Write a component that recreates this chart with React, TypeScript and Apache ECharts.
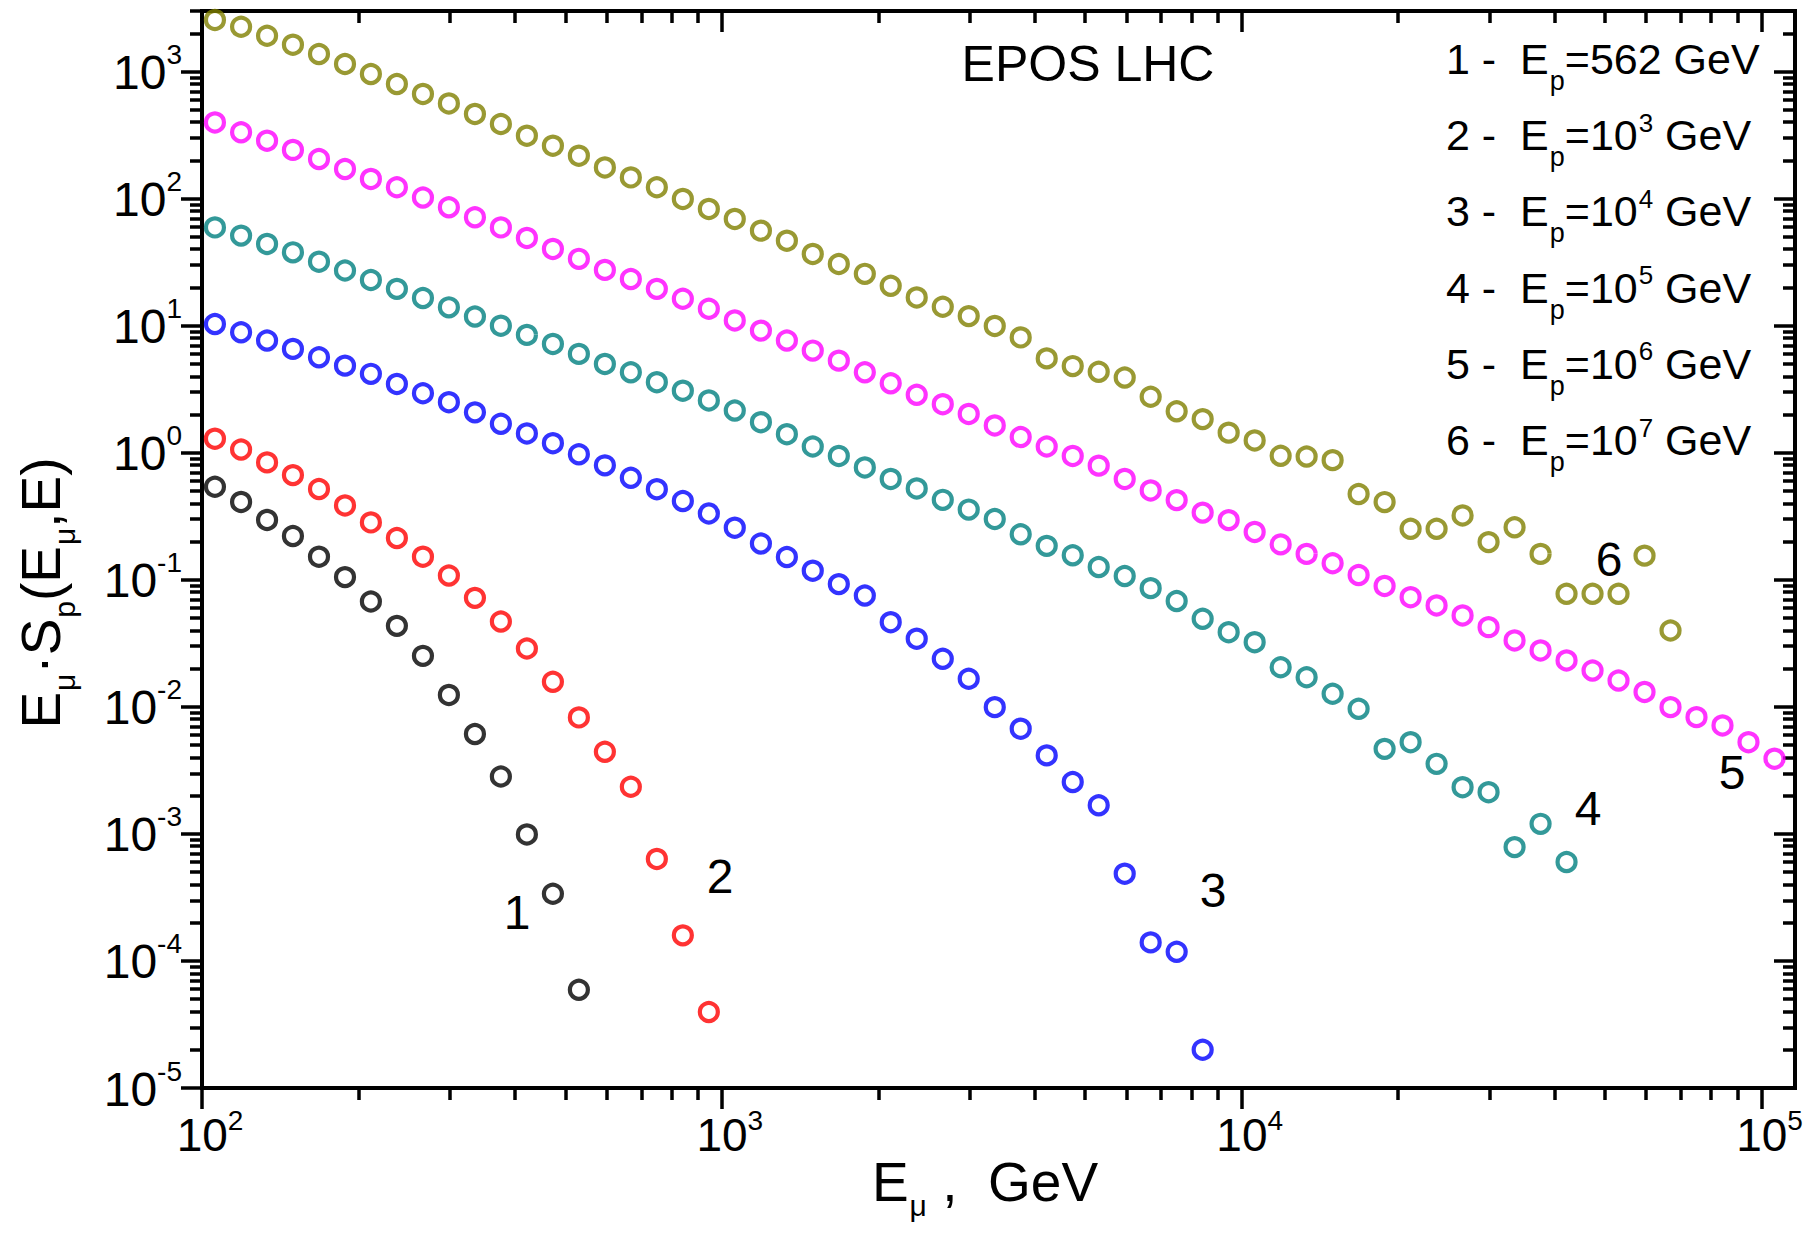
import React, { useEffect, useRef } from "react";
import * as echarts from "echarts";

// ---------- data ----------
// muon energy bin centres (GeV)
const energyGeV = [
  105.9, 118.9, 133.4, 149.6, 167.9, 188.4, 211.3, 237.1, 266.1, 298.5,
  335.0, 375.8, 421.7, 473.2, 530.9, 595.7, 668.3, 749.9, 841.4, 944.1,
  1059, 1189, 1334, 1496, 1679, 1884, 2113, 2371, 2661, 2985,
  3350, 3758, 4217, 4732, 5309, 5957, 6683, 7499, 8414, 9441,
  10593, 11885, 13335, 14962, 16788, 18836, 21135, 23714, 26607, 29854,
  33497, 37584, 42170, 47315, 53088, 59566, 66834, 74989, 84140, 94406,
  105925,
];

// 1 - Ep = 562 GeV
const curve1 = [0.54, 0.41, 0.296, 0.221, 0.152, 0.105, 0.0675, 0.0434, 0.0252, 0.0124,
  0.00611, 0.00283, 0.00099, 3.38e-4, 5.93e-5];
// 2 - Ep = 1e3 GeV
const curve2 = [1.29, 1.06, 0.84, 0.667, 0.518, 0.385, 0.283, 0.213, 0.152, 0.108,
  0.0721, 0.0469, 0.0288, 0.01575, 0.00826, 0.00443, 0.00235, 6.35e-4, 1.59e-4, 3.96e-5];
// 3 - Ep = 1e4 GeV
const curve3 = [10.3, 8.87, 7.64, 6.57, 5.64, 4.85, 4.18, 3.48, 2.94, 2.5,
  2.08, 1.69, 1.42, 1.19, 0.973, 0.796, 0.635, 0.517, 0.417, 0.333,
  0.257, 0.193, 0.151, 0.118, 0.0925, 0.0752, 0.0464, 0.0344, 0.0239, 0.01664,
  0.00995, 0.00673, 0.00415, 0.00256, 0.00168, 4.86e-4, 1.4e-4, 1.18e-4, 2.0e-5];
// 4 - Ep = 1e5 GeV
const curve4 = [59.4, 51.2, 44.0, 37.8, 31.9, 27.2, 22.9, 19.5, 16.5, 13.95,
  11.8, 10.0, 8.47, 7.19, 6.0, 5.0, 4.3, 3.59, 3.08, 2.58,
  2.15, 1.74, 1.4, 1.12, 0.944, 0.766, 0.622, 0.524, 0.426, 0.357,
  0.301, 0.228, 0.185, 0.156, 0.126, 0.107, 0.086, 0.068, 0.0493, 0.0387,
  0.0323, 0.0205, 0.0171, 0.01268, 0.00966, 0.00467, 0.00527, 0.00356, 0.00233, 0.00213,
  7.87e-4, 1.2e-3, 6.0e-4];
// 5 - Ep = 1e6 GeV
const curve5 = [398, 333, 286, 242, 205, 171, 143, 123, 102, 85.5,
  71.3, 59.4, 49.1, 40.2, 33.6, 27.5, 23.3, 19.5, 16.3, 13.6,
  11.0, 9.15, 7.64, 6.37, 5.31, 4.3, 3.52, 2.86, 2.41, 2.02,
  1.64, 1.33, 1.12, 0.944, 0.792, 0.622, 0.505, 0.424, 0.338, 0.295,
  0.238, 0.19, 0.16, 0.135, 0.109, 0.0895, 0.073, 0.0628, 0.0524, 0.0424,
  0.0333, 0.0278, 0.0232, 0.0193, 0.0161, 0.0131, 0.00995, 0.0083, 0.00714, 0.00527,
  0.00391];
// 6 - Ep = 1e7 GeV
const curve6 = [2550, 2255, 1916, 1629, 1375, 1148, 957, 798, 667, 562,
  464, 387, 313, 261, 218, 176, 147, 123, 99.5, 83,
  69.2, 56, 46.7, 36.7, 30.6, 25.6, 20.6, 16.7, 14.1, 11.9,
  9.96, 8.09, 5.53, 4.81, 4.34, 3.91, 2.76, 2.12, 1.84, 1.44,
  1.25, 0.946, 0.933, 0.875, 0.473, 0.409, 0.252, 0.252, 0.321, 0.198,
  0.259, 0.16, 0.0776, 0.0776, 0.0776, 0.155, 0.0399];

const curves = [curve1, curve2, curve3, curve4, curve5, curve6];
const curveColors = ["#000000", "#ff0000", "#0000ff", "#008080", "#ff00ff", "#808000"];
const curveNumbers = ["1", "2", "3", "4", "5", "6"];
const legendMain = ["=562", "=10", "=10", "=10", "=10", "=10"];
const legendSup = ["", "3", "4", "5", "6", "7"];

const X_MIN = 100;
const X_MAX = 116000;
const Y_MIN = 1e-5;
const Y_MAX = 3000;
const X_MAJOR = [1e2, 1e3, 1e4, 1e5];
const Y_MAJOR = [1e-5, 1e-4, 1e-3, 1e-2, 1e-1, 1, 10, 100, 1000];

function minorTicks(e0: number, e1: number, max: number) {
  const out: number[] = [];
  for (let e = e0; e <= e1; e++) {
    for (let m = 2; m <= 9; m++) {
      const v = Number((m * Math.pow(10, e)).toPrecision(3));
      if (v <= max) out.push(v);
    }
  }
  return out;
}
const X_MINOR = minorTicks(2, 4, X_MAX);
const Y_MINOR = minorTicks(-5, 3, Y_MAX);

// ---------- styles ----------
const FONT = '"Liberation Sans", Arial, Helvetica, sans-serif';
const BLACK = "#000";

const expOf = (v: number) => Math.round(Math.log10(v));

const xLabelRich = {
  b: { fontFamily: FONT, fontSize: 46, lineHeight: 46, color: BLACK, verticalAlign: "top", padding: [6, 0, 0, 16] },
  s: { fontFamily: FONT, fontSize: 28, lineHeight: 28, color: BLACK, verticalAlign: "top" },
};
const yLabelRich = {
  b: { fontFamily: FONT, fontSize: 48, lineHeight: 48, color: BLACK, verticalAlign: "top", padding: [8, 0, 0, 0] },
  s: { fontFamily: FONT, fontSize: 28, lineHeight: 28, color: BLACK, verticalAlign: "top" },
};
const legendRich = {
  n: { fontFamily: FONT, fontSize: 43, lineHeight: 43, color: BLACK, verticalAlign: "top", padding: [4, 0, 0, 0] },
  sub: { fontFamily: FONT, fontSize: 27, lineHeight: 27, color: BLACK, verticalAlign: "top", padding: [34, 0, 0, 1] },
  sup: { fontFamily: FONT, fontSize: 26, lineHeight: 26, color: BLACK, verticalAlign: "top", padding: [0, 0, 0, 1] },
};
const titleRich = {
  n: { fontFamily: FONT, fontSize: 55, lineHeight: 55, color: BLACK, verticalAlign: "top" },
  sub: { fontFamily: FONT, fontSize: 30, lineHeight: 30, color: BLACK, verticalAlign: "top", padding: [36, 0, 0, 1] },
};

const AXIS_W = 4;
const TICK_W = 3.5;
const MAJOR_LEN = 21;
const MINOR_LEN = 12;

function baseAxis(type: "x" | "y", position: string) {
  return {
    type: "log",
    logBase: 10,
    min: type === "x" ? X_MIN : Y_MIN,
    max: type === "x" ? X_MAX : Y_MAX,
    position,
    gridIndex: 0,
    splitLine: { show: false },
    minorTick: { show: false },
    axisLine: { show: false, onZero: false },
    axisTick: { show: false },
    axisLabel: { show: false },
  };
}

function tickAxis(type: "x" | "y", position: string, values: number[], len: number, inside: boolean, line: boolean) {
  const a: any = baseAxis(type, position);
  a.axisLine = { show: line, onZero: false, lineStyle: { color: BLACK, width: AXIS_W, cap: "square" } };
  a.axisTick = { show: true, inside, length: len, customValues: values, lineStyle: { color: BLACK, width: TICK_W } };
  return a;
}

export default function App() {
  const ref = useRef<HTMLDivElement>(null);

  useEffect(() => {
    if (!ref.current) return;
    const chart = echarts.init(ref.current, undefined, { renderer: "svg" });

    const xMain: any = tickAxis("x", "bottom", X_MAJOR, MAJOR_LEN, false, true);
    xMain.axisLabel = {
      show: true,
      customValues: X_MAJOR,
      margin: 18,
      formatter: (v: number) => `{b|10}{s|${expOf(v)}}`,
      rich: xLabelRich,
    };
    const yMain: any = tickAxis("y", "left", Y_MAJOR, MAJOR_LEN, false, true);
    yMain.axisLabel = {
      show: true,
      customValues: Y_MAJOR,
      margin: 20,
      padding: [0, 0, 14, 0],
      formatter: (v: number) => `{b|10}{s|${expOf(v)}}`,
      rich: yLabelRich,
    };

    const xAxes = [
      xMain,
      tickAxis("x", "bottom", X_MINOR, MINOR_LEN, false, false),
      tickAxis("x", "top", X_MAJOR, MAJOR_LEN, true, true),
      tickAxis("x", "top", X_MINOR, MINOR_LEN, true, false),
    ];
    const yAxes = [
      yMain,
      tickAxis("y", "left", Y_MINOR, MINOR_LEN, false, false),
      tickAxis("y", "right", Y_MAJOR, MAJOR_LEN, true, true),
      tickAxis("y", "right", Y_MINOR, MINOR_LEN, true, false),
    ];

    const series = curves.map((vals, i) => ({
      type: "scatter",
      name: curveNumbers[i],
      xAxisIndex: 0,
      yAxisIndex: 0,
      symbol: "circle",
      symbolSize: 18,
      data: vals.map((v, k) => [energyGeV[k], v]),
      itemStyle: { color: "rgba(0,0,0,0)", borderColor: curveColors[i], borderWidth: 4.2 },
      emphasis: { disabled: true },
      z: 2,
    }));

    const LEGEND_X = 1446;
    const LEGEND_TOP = 33.5;
    const LEGEND_STEP = 76.2;
    const legendTexts = curveNumbers.map((num, i) => ({
      type: "text",
      x: LEGEND_X,
      y: LEGEND_TOP + i * LEGEND_STEP,
      style: {
        text:
          `{n|${num} -  E}{sub|p}{n|${legendMain[i]}}` +
          (legendSup[i] ? `{sup|${legendSup[i]}}` : "") +
          `{n| GeV}`,
        rich: legendRich,
        align: "left",
        verticalAlign: "top",
      },
      z: 10,
    }));

    const curveLabelPos = [
      [517, 912], [720, 876], [1213, 890], [1588, 808], [1732, 772], [1609, 559],
    ];
    const curveLabels = curveNumbers.map((num, i) => ({
      type: "text",
      x: curveLabelPos[i][0],
      y: curveLabelPos[i][1],
      style: {
        text: num,
        font: `48px ${FONT}`,
        fill: BLACK,
        align: "center",
        verticalAlign: "middle",
      },
      z: 10,
    }));

    const option: any = {
      animation: false,
      backgroundColor: "#ffffff",
      grid: {
        left: 202,
        top: 11,
        width: 1593,
        height: 1077,
        containLabel: false,
        outerBoundsMode: "none",
      },
      xAxis: xAxes,
      yAxis: yAxes,
      series,
      graphic: [
        {
          type: "text",
          x: 1088,
          y: 64,
          style: {
            text: "EPOS LHC",
            font: `50px ${FONT}`,
            fill: BLACK,
            align: "center",
            verticalAlign: "middle",
          },
          z: 10,
        },
        ...legendTexts,
        ...curveLabels,
        {
          type: "text",
          x: 985,
          y: 1182,
          style: {
            text: "{n|E}{sub|μ}{n| ,  GeV}",
            rich: titleRich,
            align: "center",
            verticalAlign: "middle",
          },
          z: 10,
        },
        {
          type: "text",
          x: 41,
          y: 593,
          rotation: Math.PI / 2,
          style: {
            text: "{n|E}{sub|μ}{n|·S}{sub|p}{n|(E}{sub|μ}{n|,E)}",
            rich: titleRich,
            align: "center",
            verticalAlign: "middle",
          },
          z: 10,
        },
      ],
    };

    chart.setOption(option);
    return () => chart.dispose();
  }, []);

  return (
    <div
      ref={ref}
      style={{ position: "absolute", left: 0, top: 0, width: 1806, height: 1240, background: "#fff" }}
    />
  );
}
